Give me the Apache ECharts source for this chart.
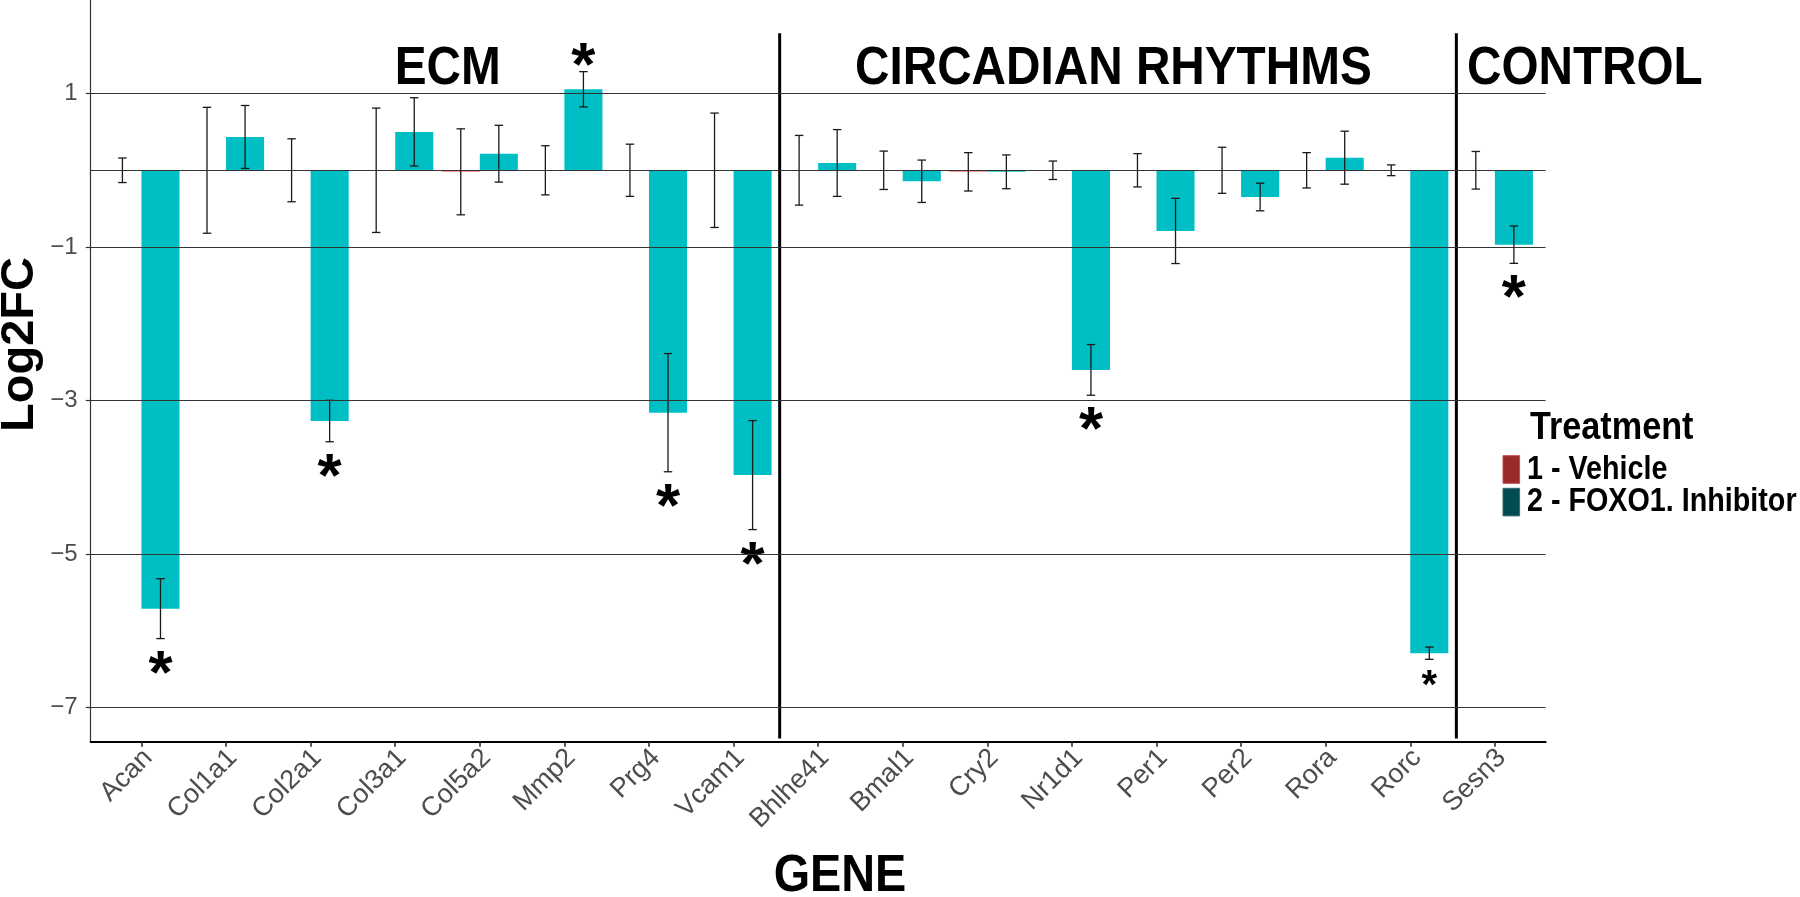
<!DOCTYPE html>
<html><head><meta charset="utf-8">
<script src="https://cdn.jsdelivr.net/npm/echarts@6/dist/echarts.min.js"></script>
<style>html,body{margin:0;padding:0;background:#fff}#c{width:1800px;height:897px}</style>
</head><body><div id="c"></div>
<script>
// ---- data ----
const genes = ['Acan','Col1a1','Col2a1','Col3a1','Col5a2','Mmp2','Prg4','Vcam1','Bhlhe41','Bmal1','Cry2','Nr1d1','Per1','Per2','Rora','Rorc','Sesn3'];
const vehicleMean = [0,0,0,0,-0.02,0,0,0,0,0,-0.02,0,0,0,0,0,0];
const vehicleErr = [0.16,0.82,0.41,0.81,0.56,0.32,0.34,0.745,0.454,0.25,0.25,0.12,0.217,0.30,0.23,0.07,0.245];
const inhibitorMean = [-5.71,0.434,-3.266,0.50,0.216,1.055,-3.157,-3.97,0.095,-0.143,-0.02,-2.60,-0.79,-0.348,0.164,-6.29,-0.969];
const inhibitorErr = [0.39,0.41,0.27,0.445,0.37,0.23,0.77,0.71,0.435,0.276,0.22,0.33,0.425,0.18,0.345,0.08,0.243];
const significance = ['*','','*','','','*','*','*','','','','*','','','','*','*'];
const yTickValues = [-7,-5,-3,-1,1];
const refLineValues = [1,0,-1,-3,-5,-7];
const groupNames = ['ECM','CIRCADIAN RHYTHMS','CONTROL'];
const groupFirst = [0,8,16];
const groupLast = [7,15,16];
const seriesNames = ['1 - Vehicle','2 - FOXO1. Inhibitor'];
const legendTitle = 'Treatment';

// ---- style / layout config ----
const SANS = "'Liberation Sans',Arial,sans-serif";
const COND = 0.9; // horizontal squeeze to mimic a condensed bold face
const barColors = ['#f8766d', '#00bfc4'];
const legendColors = ['#9b2b2b', '#004c50'];
const legendBorders = ['#c24a4a', '#2f6d71'];
const smallStarGenes = ['Rorc'];
const sectionLabelX = [3.62, 11.49, 15.67];
const sectionLabelAlign = ['center','center','left'];

const chart = echarts.init(document.getElementById('c'), null, {renderer:'canvas'});

function barRender(side, color, withStars) {
  return function (params, api) {
    const i = api.value(0), m = api.value(1), e = api.value(2);
    const half = 0.225;
    const cx = i + side * half;
    const pL = api.coord([cx - half, 0]);
    const pR = api.coord([cx + half, m]);
    const y0 = pL[1], y1 = pR[1];
    const top = Math.min(y0, y1), h = Math.abs(y1 - y0);
    const children = [{
      type: 'rect',
      shape: {x: pL[0], y: top, width: pR[0] - pL[0], height: h},
      style: {fill: color}
    }];
    const c = api.coord([cx, m]);
    const eT = api.coord([cx, m + e])[1];
    const eB = api.coord([cx, m - e])[1];
    const capL = api.coord([cx - 0.05, 0])[0];
    const capR = api.coord([cx + 0.05, 0])[0];
    const ls = {stroke: '#1a1a1a', lineWidth: 1.3};
    children.push({type:'line', shape:{x1:c[0], y1:eT, x2:c[0], y2:eB}, style: ls});
    children.push({type:'line', shape:{x1:capL, y1:eT, x2:capR, y2:eT}, style: ls});
    children.push({type:'line', shape:{x1:capL, y1:eB, x2:capR, y2:eB}, style: ls});
    if (withStars && significance[i]) {
      const small = smallStarGenes.indexOf(genes[i]) >= 0;
      const fs = small ? 40 : 62;
      const y = m < 0 ? eB + (small ? 28 : 37) : eT - 4;
      children.push({
        type: 'text',
        style: {text: significance[i], x: c[0], y: y, align: 'center', verticalAlign: 'middle',
          font: 'bold ' + fs + 'px ' + SANS, fill: '#000'}
      });
    }
    return {type: 'group', children: children};
  };
}

const groupData = groupNames.map((n, k) => [groupFirst[k], groupLast[k], k]);

const legendGraphics = [];
legendGraphics.push({type: 'text', x: 1530, y: 428.3, scaleX: COND,
  style: {text: legendTitle, x: 0, y: 0, align: 'left', verticalAlign: 'middle', font: 'bold 38px ' + SANS, fill: '#000'}});
seriesNames.forEach((n, k) => {
  const top = 455.7 + k * 32.6;
  legendGraphics.push({type: 'rect', shape: {x: 1503, y: top, width: 16.6, height: 27.6},
    style: {fill: legendColors[k], stroke: legendBorders[k], lineWidth: 1}});
  legendGraphics.push({type: 'text', x: 1527, y: top + 13.8, scaleX: 0.87,
    style: {text: n, x: 0, y: 0, align: 'left', verticalAlign: 'middle', font: 'bold 33px ' + SANS, fill: '#000'}});
});

const option = {
  animation: false,
  backgroundColor: '#fff',
  grid: {left: 90.7, right: 254.4, top: 0, bottom: 155.3, containLabel: false},
  xAxis: {
    type: 'value', min: -0.6, max: 16.6,
    axisLine: {show: true, onZero: false, lineStyle: {color: '#000', width: 2.2}},
    axisTick: {show: true, customValues: genes.map((g, i) => i), length: 5, lineStyle: {color: '#222', width: 1.5}},
    axisLabel: {show: true, customValues: genes.map((g, i) => i + 0.08), rotate: 45, margin: 12,
      formatter: v => genes[Math.round(v)], color: '#4d4d4d', fontSize: 27, fontFamily: SANS},
    splitLine: {show: false}
  },
  yAxis: {
    type: 'value', min: -7.443, max: 2.218,
    axisLine: {show: true, onZero: false, lineStyle: {color: '#333', width: 1.2}},
    axisTick: {show: true, customValues: yTickValues, length: 5, lineStyle: {color: '#333', width: 1.2}},
    axisLabel: {show: true, customValues: yTickValues, margin: 13, color: '#4d4d4d', fontSize: 24, fontFamily: SANS,
      formatter: v => (v < 0 ? '\u2212' + Math.abs(v) : String(v))},
    splitLine: {show: false}
  },
  series: [
    {
      type: 'line', name: 'grid', data: [], silent: true,
      markLine: {silent: true, symbol: 'none', animation: false, label: {show: false},
        lineStyle: {color: '#333', width: 1.2, type: 'solid'},
        data: refLineValues.map(v => ({yAxis: v}))}
    },
    {
      type: 'custom', name: seriesNames[0],
      renderItem: barRender(-1, barColors[0], false),
      data: genes.map((g, i) => [i, vehicleMean[i], vehicleErr[i]]), z: 3
    },
    {
      type: 'custom', name: seriesNames[1],
      renderItem: barRender(1, barColors[1], true),
      data: genes.map((g, i) => [i, inhibitorMean[i], inhibitorErr[i]]), z: 3
    },
    {
      type: 'custom', name: 'sections', silent: true, z: 4,
      renderItem: function (params, api) {
        const k = api.value(2);
        const children = [];
        if (k < groupNames.length - 1) {
          const xs = api.value(1) + 0.545;
          const a = api.coord([xs, 1.785]), b = api.coord([xs, -7.40]);
          children.push({type: 'line', shape: {x1: a[0], y1: a[1], x2: b[0], y2: b[1]}, style: {stroke: '#000', lineWidth: 3}});
        }
        const p = api.coord([sectionLabelX[k], 1.32]);
        children.push({type: 'text', x: p[0], y: p[1], scaleX: COND,
          style: {text: groupNames[k], x: 0, y: 0, align: sectionLabelAlign[k], verticalAlign: 'middle',
          font: 'bold 53px ' + SANS, fill: '#000'}});
        return {type: 'group', children: children};
      },
      data: groupData
    }
  ],
  graphic: [
    {type: 'text', x: 20, y: 344.5, rotation: Math.PI / 2,
      style: {text: 'Log2FC', x: 0, y: 0, align: 'center', verticalAlign: 'middle', font: 'bold 47px ' + SANS, fill: '#000'}},
    {type: 'text', x: 840, y: 876.7, scaleX: COND,
      style: {text: 'GENE', x: 0, y: 0, align: 'center', verticalAlign: 'middle', font: 'bold 52px ' + SANS, fill: '#000'}}
  ].concat(legendGraphics)
};
chart.setOption(option);
</script></body></html>
